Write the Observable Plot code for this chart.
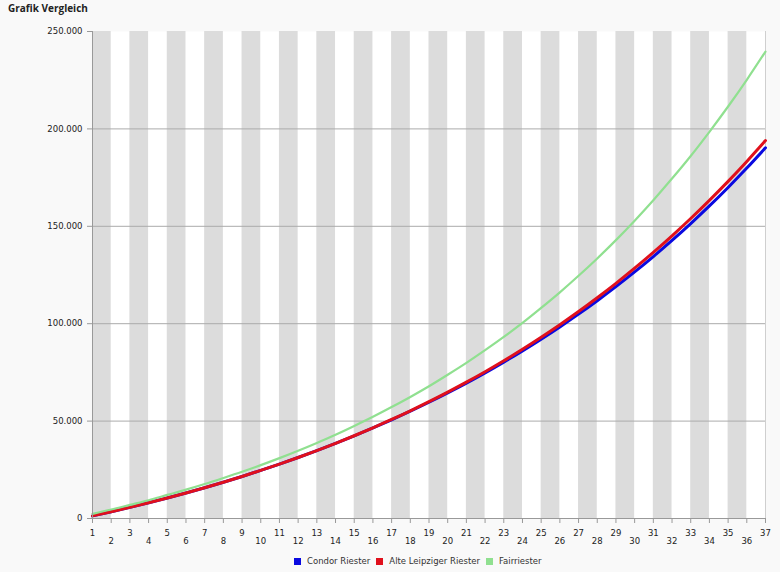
<!DOCTYPE html>
<html><head><meta charset="utf-8">
<script src="https://cdn.jsdelivr.net/npm/d3@7"></script>
<script src="https://cdn.jsdelivr.net/npm/@observablehq/plot@0.6"></script>
<style>
html,body{margin:0;padding:0;background:#f9f9f9;width:780px;height:572px;overflow:hidden;font-family:"DejaVu Sans",sans-serif;}
#title{position:absolute;left:8px;top:1px;font:bold 10px "Open Sans",sans-serif;color:#222;}
#chart{position:absolute;left:0;top:20px;}
#legend{position:absolute;left:291px;top:550px;height:22px;display:flex;justify-content:flex-start;align-items:center;font-size:8.5px;color:#333;}
.sw{display:inline-block;width:7px;height:7px;margin-right:6px;}
.item{display:flex;align-items:center;margin:0 3px;}
</style></head><body>
<div id="title">Grafik Vergleich</div>
<div id="chart"></div>
<div id="legend"></div>
<script>
const title = "Grafik Vergleich";
const years = [1,2,3,4,5,6,7,8,9,10,11,12,13,14,15,16,17,18,19,20,21,22,23,24,25,26,27,28,29,30,31,32,33,34,35,36,37];
const seriesNames = ["Condor Riester","Alte Leipziger Riester","Fairriester"];
const seriesColors = ["#0a0ae0","#e0101c","#90e090"];
const condor = [1350,3490,5730,8080,10540,13120,15810,18640,21590,24690,27930,31320,34860,38570,42430,46470,50680,55080,59690,64500,69520,74780,80280,86030,92050,98340,104920,111810,119020,126570,134470,142740,151400,160460,169950,179890,190290];
const alte = [1350,3490,5730,8080,10540,13120,15810,18640,21590,24690,27930,31320,34870,38590,42480,46560,50830,55300,59980,64880,70000,75370,81000,86880,93050,99500,106250,113330,120730,128490,136610,145110,154010,163330,173080,183300,193990];
const fair = [2400,4600,7000,9400,12100,14800,17700,20800,24000,27400,31000,34800,38800,43000,47500,52200,57200,62400,67900,73800,79900,86400,93200,100400,108100,116100,124600,133500,142900,152900,163400,174500,186100,198500,211500,225200,239700];
const yTicks = [0,50000,100000,150000,200000,250000];

const fmt = d => d3.format(",")(d).replace(/,/g, ".");
const bandStarts = years.filter(y => y % 2 === 1 && y < 37);
const oddYears = years.filter(y => y % 2 === 1);
const evenYears = years.filter(y => y % 2 === 0);
const seriesValues = [condor, alte, fair];
const rows = seriesValues.map((vals, k) => years.map((yr, i) => ({year: yr, value: vals[i], series: seriesNames[k]})));
const widths = [3, 3, 2.2];

const chart = Plot.plot({
  width: 780, height: 530,
  marginTop: 11, marginBottom: 32, marginLeft: 92, marginRight: 15,
  x: {domain: [1, 37]},
  y: {domain: [0, 250000]},
  style: {background: "transparent", fontFamily: "DejaVu Sans", fontSize: "8.5px", color: "#222"},
  marks: [
    Plot.frame({fill: "white", stroke: null}),
    Plot.rect(bandStarts, {x1: d => d, x2: d => d + 1, y1: d => 0, y2: d => 250000, fill: "#dcdcdc"}),
    Plot.gridY(yTicks.filter(v => v > 0 && v < 250000), {stroke: "#ababab", strokeOpacity: 1}),
    Plot.ruleX([37], {stroke: "#cfcfcf"}),
    ...rows.map((r, k) => Plot.line(r, {x: "year", y: "value", stroke: seriesColors[k], strokeWidth: widths[k], curve: "monotone-x"})),
    Plot.ruleX([1], {stroke: "#999"}),
    Plot.ruleY([0], {stroke: "#999"}),
    Plot.axisY(yTicks, {tickSize: 5, tickPadding: 5, tickFormat: fmt, stroke: "#999", fill: "#222", label: null}),
    Plot.axisX(years, {tickSize: 5, tickFormat: () => "", stroke: "#999", label: null}),
    Plot.axisX(oddYears, {tickSize: 0, tickPadding: 11, tickFormat: d => String(d), fill: "#222", label: null}),
    Plot.axisX(evenYears, {tickSize: 0, tickPadding: 19, tickFormat: d => String(d), fill: "#222", label: null})
  ]
});
document.getElementById("chart").appendChild(chart);

const legend = document.getElementById("legend");
seriesNames.forEach((n, k) => {
  const it = document.createElement("span");
  it.className = "item";
  const sw = document.createElement("span");
  sw.className = "sw";
  sw.style.background = seriesColors[k];
  it.appendChild(sw);
  it.appendChild(document.createTextNode(n));
  legend.appendChild(it);
});
</script>
</body></html>
